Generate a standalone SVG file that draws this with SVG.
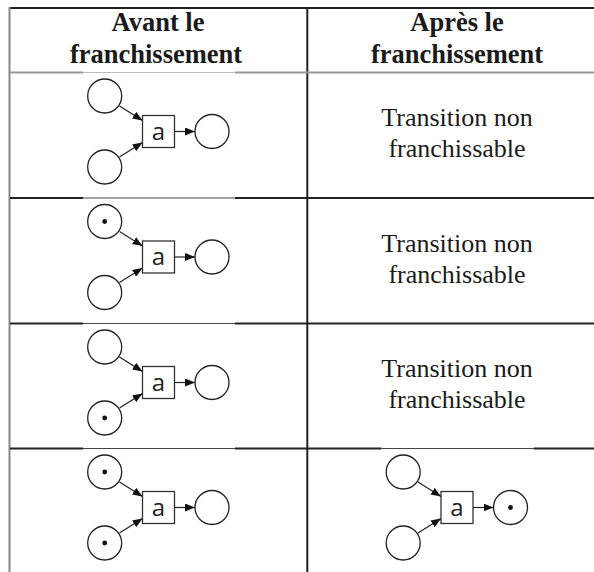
<svg xmlns="http://www.w3.org/2000/svg" width="594" height="572" viewBox="0 0 594 572">
<style>
.hd{font-family:"Liberation Serif","Times New Roman",serif;font-weight:bold;font-size:26.5px;fill:#1a1a1a;text-anchor:middle}
.tx{font-family:"Liberation Serif","Times New Roman",serif;font-size:26px;fill:#1a1a1a;text-anchor:middle}
.pl{fill:#fff;stroke:#222;stroke-width:1.3}
.tr{fill:#fff;stroke:#333;stroke-width:1.3}
.lb{font-family:"Open Sans","DejaVu Sans",sans-serif;font-size:24px;fill:#222;text-anchor:middle}
.tk{fill:#111}
.arc{stroke:#222;stroke-width:1.2;fill:none;marker-end:url(#ah)}
.grid{stroke:#222;stroke-width:2;fill:none}
.thin{stroke:#444;stroke-width:1;fill:none}
.gray{stroke:#999;stroke-width:2;fill:none}
.lgray{stroke:#bbb;stroke-width:1;fill:none}
</style>
<defs>
<marker id="ah" viewBox="0 0 10 8" refX="10" refY="4" markerWidth="10" markerHeight="8" markerUnits="userSpaceOnUse" orient="auto">
<path d="M0,0 L10,4 L0,8 z" fill="#111"/>
</marker>
</defs>
<rect width="594" height="572" fill="#fff"/>
<g id="table">
<line class="grid" x1="9" y1="8" x2="594" y2="8" stroke-width="1.5"/>
<line x1="9.5" y1="7" x2="9.5" y2="572" stroke="#888" stroke-width="2"/>
<line class="grid" x1="307.3" y1="8" x2="307.3" y2="572" stroke-width="1.5"/>
<line class="gray" x1="10" y1="72.5" x2="83" y2="72.5"/>
<line class="lgray" x1="83" y1="72.5" x2="235" y2="72.5"/>
<line class="gray" x1="235" y1="72.5" x2="594" y2="72.5"/>
<line class="grid" x1="10" y1="198" x2="83" y2="198"/>
<line class="thin" x1="83" y1="198" x2="235" y2="198"/>
<line class="grid" x1="235" y1="198" x2="594" y2="198"/>
<line class="grid" x1="10" y1="323.5" x2="83" y2="323.5"/>
<line class="thin" x1="83" y1="323.5" x2="235" y2="323.5"/>
<line class="grid" x1="235" y1="323.5" x2="594" y2="323.5"/>
<line class="grid" x1="10" y1="448.5" x2="83" y2="448.5"/>
<line class="thin" x1="83" y1="448.5" x2="235" y2="448.5"/>
<line class="grid" x1="235" y1="448.5" x2="381.5" y2="448.5"/>
<line class="thin" x1="381.5" y1="448.5" x2="533.5" y2="448.5"/>
<line class="grid" x1="533.5" y1="448.5" x2="594" y2="448.5"/>
</g>
<g id="headers">
<text class="hd" x="158" y="31">Avant le</text>
<text class="hd" x="156" y="63">franchissement</text>
<text class="hd" x="457" y="31">Après le</text>
<text class="hd" x="457" y="63">franchissement</text>
</g>
<g id="results">
<text class="tx" x="457" y="126">Transition non</text>
<text class="tx" x="457" y="157">franchissable</text>
<text class="tx" x="457" y="251.5">Transition non</text>
<text class="tx" x="457" y="282.5">franchissable</text>
<text class="tx" x="457" y="377">Transition non</text>
<text class="tx" x="457" y="408">franchissable</text>
</g>
<g id="net1">
<g id="net1-p1"><circle class="pl" cx="104.7" cy="96" r="17"/></g>
<g id="net1-p2"><circle class="pl" cx="104.7" cy="167" r="17"/></g>
<g id="net1-t"><rect class="tr" x="142.5" y="115.5" width="32" height="32"/><text class="lb" x="158.5" y="139.5">a</text></g>
<g id="net1-p3"><circle class="pl" cx="212" cy="131.5" r="17"/></g>
<g id="net1-arcs"><line class="arc" x1="119.5" y1="106" x2="142.5" y2="120.5"/><line class="arc" x1="119.5" y1="157" x2="142.5" y2="142.5"/><line class="arc" x1="174.5" y1="131.5" x2="195" y2="131.5"/></g>
</g>
<g id="net2" transform="translate(0,125.5)">
<g id="net2-p1"><circle class="pl" cx="104.7" cy="96" r="17"/><circle class="tk" cx="104.7" cy="96" r="2.4"/></g>
<g id="net2-p2"><circle class="pl" cx="104.7" cy="167" r="17"/></g>
<g id="net2-t"><rect class="tr" x="142.5" y="115.5" width="32" height="32"/><text class="lb" x="158.5" y="139.5">a</text></g>
<g id="net2-p3"><circle class="pl" cx="212" cy="131.5" r="17"/></g>
<g id="net2-arcs"><line class="arc" x1="119.5" y1="106" x2="142.5" y2="120.5"/><line class="arc" x1="119.5" y1="157" x2="142.5" y2="142.5"/><line class="arc" x1="174.5" y1="131.5" x2="195" y2="131.5"/></g>
</g>
<g id="net3" transform="translate(0,251)">
<g id="net3-p1"><circle class="pl" cx="104.7" cy="96" r="17"/></g>
<g id="net3-p2"><circle class="pl" cx="104.7" cy="167" r="17"/><circle class="tk" cx="104.7" cy="167" r="2.4"/></g>
<g id="net3-t"><rect class="tr" x="142.5" y="115.5" width="32" height="32"/><text class="lb" x="158.5" y="139.5">a</text></g>
<g id="net3-p3"><circle class="pl" cx="212" cy="131.5" r="17"/></g>
<g id="net3-arcs"><line class="arc" x1="119.5" y1="106" x2="142.5" y2="120.5"/><line class="arc" x1="119.5" y1="157" x2="142.5" y2="142.5"/><line class="arc" x1="174.5" y1="131.5" x2="195" y2="131.5"/></g>
</g>
<g id="net4" transform="translate(0,376)">
<g id="net4-p1"><circle class="pl" cx="104.7" cy="96" r="17"/><circle class="tk" cx="104.7" cy="96" r="2.4"/></g>
<g id="net4-p2"><circle class="pl" cx="104.7" cy="167" r="17"/><circle class="tk" cx="104.7" cy="167" r="2.4"/></g>
<g id="net4-t"><rect class="tr" x="142.5" y="115.5" width="32" height="32"/><text class="lb" x="158.5" y="139.5">a</text></g>
<g id="net4-p3"><circle class="pl" cx="212" cy="131.5" r="17"/></g>
<g id="net4-arcs"><line class="arc" x1="119.5" y1="106" x2="142.5" y2="120.5"/><line class="arc" x1="119.5" y1="157" x2="142.5" y2="142.5"/><line class="arc" x1="174.5" y1="131.5" x2="195" y2="131.5"/></g>
</g>
<g id="net5" transform="translate(298.5,376)">
<g id="net5-p1"><circle class="pl" cx="104.7" cy="96" r="17"/></g>
<g id="net5-p2"><circle class="pl" cx="104.7" cy="167" r="17"/></g>
<g id="net5-t"><rect class="tr" x="142.5" y="115.5" width="32" height="32"/><text class="lb" x="158.5" y="139.5">a</text></g>
<g id="net5-p3"><circle class="pl" cx="212" cy="131.5" r="17"/><circle class="tk" cx="212" cy="131.5" r="2.4"/></g>
<g id="net5-arcs"><line class="arc" x1="119.5" y1="106" x2="142.5" y2="120.5"/><line class="arc" x1="119.5" y1="157" x2="142.5" y2="142.5"/><line class="arc" x1="174.5" y1="131.5" x2="195" y2="131.5"/></g>
</g>
</svg>
